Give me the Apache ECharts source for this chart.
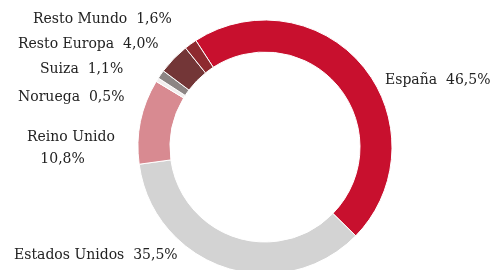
<!DOCTYPE html>
<html>
<head>
<meta charset="utf-8">
<script src="https://cdn.jsdelivr.net/npm/echarts@6/dist/echarts.min.js"></script>
<style>
  html, body { margin: 0; padding: 0; background: #fff; }
  #chart { width: 494px; height: 270px; }
</style>
</head>
<body>
<div id="chart"></div>
<script>
var countries = ['España', 'Estados Unidos', 'Reino Unido', 'Noruega', 'Suiza', 'Resto Europa', 'Resto Mundo'];
var shares = [46.5, 35.5, 10.8, 0.5, 1.1, 4.0, 1.6];
var colors = ['#c8102e', '#d3d3d3', '#d88a91', '#f2eeee', '#8c8584', '#733637', '#8e2a2f'];
// label anchor (left x, top y) for each slice
var labelPos = [[385, 69], [14, 244], [27, 126], [18, 86], [40, 58], [18, 33], [33, 8]];

function fmt(v) { return v.toFixed(1).replace('.', ',') + '%'; }

var chart = echarts.init(document.getElementById('chart'));
chart.setOption({
    animation: false,
    series: [
        {
            type: 'pie',
            center: [265, 147],
            radius: [95, 127],
            startAngle: 123,
            clockwise: true,
            silent: true,
            itemStyle: { borderColor: '#fff', borderWidth: 1 },
            label: {
                show: true,
                position: 'outside',
                fontFamily: 'DejaVu Serif',
                fontSize: 14,
                color: '#222',
                lineHeight: 22,
                align: 'left',
                overflow: 'none',
                formatter: function (p) {
                    if (p.name === 'Reino Unido') return p.name + '\n   ' + fmt(p.value);
                    return p.name + '  ' + fmt(p.value);
                }
            },
            labelLine: { show: false },
            labelLayout: function (p) {
                var pos = labelPos[p.dataIndex];
                return { x: pos[0], y: pos[1], align: 'left', verticalAlign: 'top', hideOverlap: false };
            },
            data: countries.map(function (c, i) {
                return { name: c, value: shares[i], itemStyle: { color: colors[i] } };
            })
        }
    ]
});
</script>
</body>
</html>
